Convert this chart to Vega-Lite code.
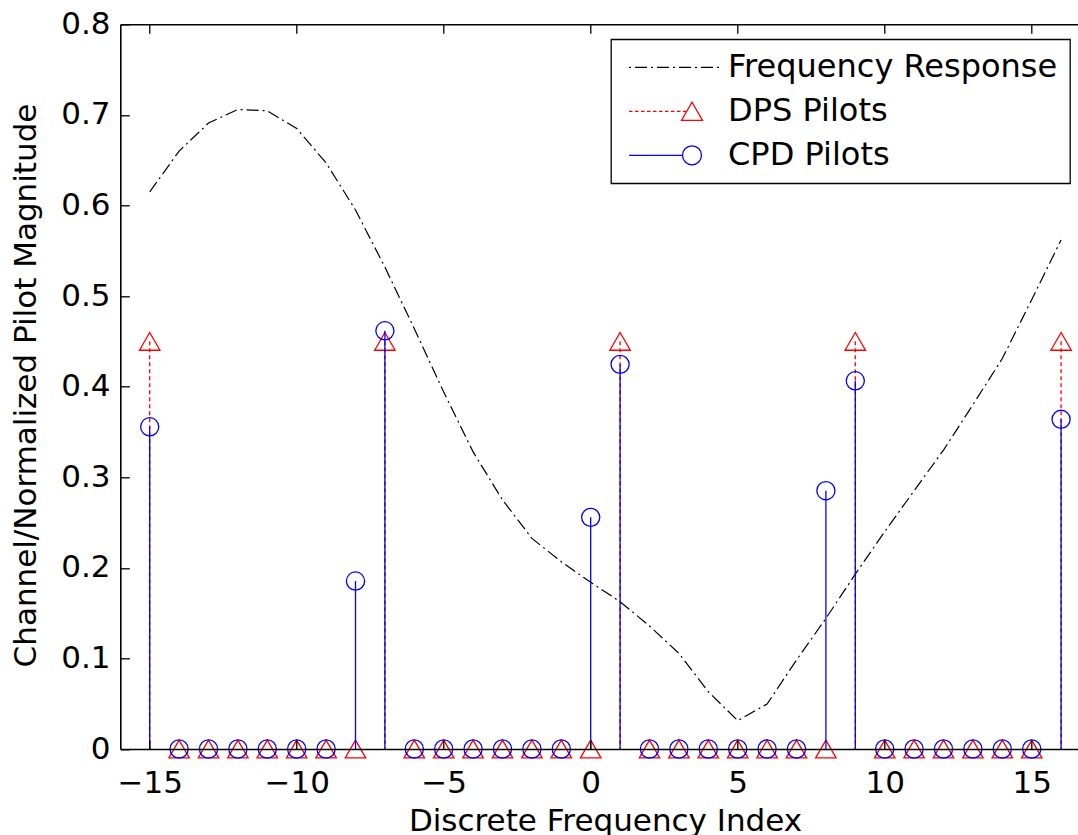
{
  "$schema": "https://vega.github.io/schema/vega-lite/v6.json",
  "width": 957.7,
  "height": 724.7,
  "autosize": {"type": "none"},
  "padding": {"left": 120.3, "top": 24.3, "right": 0, "bottom": 86},
  "background": "white",
  "config": {"view": {"stroke": null}, "font": "DejaVu Sans"},
  "datasets": {
    "freq": [
      {"k": -15, "mag": 0.615, "series": "Frequency Response"},
      {"k": -14, "mag": 0.660, "series": "Frequency Response"},
      {"k": -13, "mag": 0.691, "series": "Frequency Response"},
      {"k": -12, "mag": 0.706, "series": "Frequency Response"},
      {"k": -11, "mag": 0.7045, "series": "Frequency Response"},
      {"k": -10, "mag": 0.685, "series": "Frequency Response"},
      {"k": -9, "mag": 0.647, "series": "Frequency Response"},
      {"k": -8, "mag": 0.595, "series": "Frequency Response"},
      {"k": -7, "mag": 0.532, "series": "Frequency Response"},
      {"k": -6, "mag": 0.464, "series": "Frequency Response"},
      {"k": -5, "mag": 0.394, "series": "Frequency Response"},
      {"k": -4, "mag": 0.328, "series": "Frequency Response"},
      {"k": -3, "mag": 0.275, "series": "Frequency Response"},
      {"k": -2, "mag": 0.2325, "series": "Frequency Response"},
      {"k": -1, "mag": 0.2067, "series": "Frequency Response"},
      {"k": 0, "mag": 0.184, "series": "Frequency Response"},
      {"k": 1, "mag": 0.1626, "series": "Frequency Response"},
      {"k": 2, "mag": 0.1358, "series": "Frequency Response"},
      {"k": 3, "mag": 0.1056, "series": "Frequency Response"},
      {"k": 4, "mag": 0.0633, "series": "Frequency Response"},
      {"k": 5, "mag": 0.0313, "series": "Frequency Response"},
      {"k": 6, "mag": 0.0497, "series": "Frequency Response"},
      {"k": 7, "mag": 0.0982, "series": "Frequency Response"},
      {"k": 8, "mag": 0.1442, "series": "Frequency Response"},
      {"k": 9, "mag": 0.193, "series": "Frequency Response"},
      {"k": 10, "mag": 0.240, "series": "Frequency Response"},
      {"k": 11, "mag": 0.285, "series": "Frequency Response"},
      {"k": 12, "mag": 0.330, "series": "Frequency Response"},
      {"k": 13, "mag": 0.380, "series": "Frequency Response"},
      {"k": 14, "mag": 0.431, "series": "Frequency Response"},
      {"k": 15, "mag": 0.496, "series": "Frequency Response"},
      {"k": 16, "mag": 0.562, "series": "Frequency Response"}
    ],
    "dps": [
      {"k": -15, "mag": 0.45, "series": "DPS Pilots"},
      {"k": -14, "mag": 0, "series": "DPS Pilots"},
      {"k": -13, "mag": 0, "series": "DPS Pilots"},
      {"k": -12, "mag": 0, "series": "DPS Pilots"},
      {"k": -11, "mag": 0, "series": "DPS Pilots"},
      {"k": -10, "mag": 0, "series": "DPS Pilots"},
      {"k": -9, "mag": 0, "series": "DPS Pilots"},
      {"k": -8, "mag": 0, "series": "DPS Pilots"},
      {"k": -7, "mag": 0.45, "series": "DPS Pilots"},
      {"k": -6, "mag": 0, "series": "DPS Pilots"},
      {"k": -5, "mag": 0, "series": "DPS Pilots"},
      {"k": -4, "mag": 0, "series": "DPS Pilots"},
      {"k": -3, "mag": 0, "series": "DPS Pilots"},
      {"k": -2, "mag": 0, "series": "DPS Pilots"},
      {"k": -1, "mag": 0, "series": "DPS Pilots"},
      {"k": 0, "mag": 0, "series": "DPS Pilots"},
      {"k": 1, "mag": 0.45, "series": "DPS Pilots"},
      {"k": 2, "mag": 0, "series": "DPS Pilots"},
      {"k": 3, "mag": 0, "series": "DPS Pilots"},
      {"k": 4, "mag": 0, "series": "DPS Pilots"},
      {"k": 5, "mag": 0, "series": "DPS Pilots"},
      {"k": 6, "mag": 0, "series": "DPS Pilots"},
      {"k": 7, "mag": 0, "series": "DPS Pilots"},
      {"k": 8, "mag": 0, "series": "DPS Pilots"},
      {"k": 9, "mag": 0.45, "series": "DPS Pilots"},
      {"k": 10, "mag": 0, "series": "DPS Pilots"},
      {"k": 11, "mag": 0, "series": "DPS Pilots"},
      {"k": 12, "mag": 0, "series": "DPS Pilots"},
      {"k": 13, "mag": 0, "series": "DPS Pilots"},
      {"k": 14, "mag": 0, "series": "DPS Pilots"},
      {"k": 15, "mag": 0, "series": "DPS Pilots"},
      {"k": 16, "mag": 0.45, "series": "DPS Pilots"}
    ],
    "cpd": [
      {"k": -15, "mag": 0.3557, "series": "CPD Pilots"},
      {"k": -14, "mag": 0, "series": "CPD Pilots"},
      {"k": -13, "mag": 0, "series": "CPD Pilots"},
      {"k": -12, "mag": 0, "series": "CPD Pilots"},
      {"k": -11, "mag": 0, "series": "CPD Pilots"},
      {"k": -10, "mag": 0, "series": "CPD Pilots"},
      {"k": -9, "mag": 0, "series": "CPD Pilots"},
      {"k": -8, "mag": 0.1854, "series": "CPD Pilots"},
      {"k": -7, "mag": 0.4617, "series": "CPD Pilots"},
      {"k": -6, "mag": 0, "series": "CPD Pilots"},
      {"k": -5, "mag": 0, "series": "CPD Pilots"},
      {"k": -4, "mag": 0, "series": "CPD Pilots"},
      {"k": -3, "mag": 0, "series": "CPD Pilots"},
      {"k": -2, "mag": 0, "series": "CPD Pilots"},
      {"k": -1, "mag": 0, "series": "CPD Pilots"},
      {"k": 0, "mag": 0.2557, "series": "CPD Pilots"},
      {"k": 1, "mag": 0.4246, "series": "CPD Pilots"},
      {"k": 2, "mag": 0, "series": "CPD Pilots"},
      {"k": 3, "mag": 0, "series": "CPD Pilots"},
      {"k": 4, "mag": 0, "series": "CPD Pilots"},
      {"k": 5, "mag": 0, "series": "CPD Pilots"},
      {"k": 6, "mag": 0, "series": "CPD Pilots"},
      {"k": 7, "mag": 0, "series": "CPD Pilots"},
      {"k": 8, "mag": 0.2851, "series": "CPD Pilots"},
      {"k": 9, "mag": 0.4065, "series": "CPD Pilots"},
      {"k": 10, "mag": 0, "series": "CPD Pilots"},
      {"k": 11, "mag": 0, "series": "CPD Pilots"},
      {"k": 12, "mag": 0, "series": "CPD Pilots"},
      {"k": 13, "mag": 0, "series": "CPD Pilots"},
      {"k": 14, "mag": 0, "series": "CPD Pilots"},
      {"k": 15, "mag": 0, "series": "CPD Pilots"},
      {"k": 16, "mag": 0.3639, "series": "CPD Pilots"}
    ]
  },
  "resolve": {"axis": {"x": "independent", "y": "independent"}},
  "layer": [
    {
      "data": {"name": "freq"},
      "mark": {"type": "line", "strokeDash": [12, 4, 2, 4], "strokeWidth": 1.2},
      "encoding": {
        "x": {
          "field": "k", "type": "quantitative",
          "scale": {"domain": [-16, 16.575], "nice": false, "zero": false},
          "axis": {
            "orient": "bottom", "values": [-15, -10, -5, 0, 5, 10, 15], "format": "d",
            "title": "Discrete Frequency Index", "titleFont": "DejaVu Sans", "titleFontSize": 31,
            "titleFontWeight": "normal", "titleColor": "black", "titleBaseline": "alphabetic",
            "titleX": 484.7, "titleY": 81, "titleAlign": "center",
            "labelFont": "DejaVu Sans", "labelFontSize": 31, "labelColor": "black",
            "labelPadding": 28, "labelFlush": false, "labelOverlap": false,
            "tickSize": -9, "tickColor": "black", "tickWidth": 1.3,
            "domainColor": "black", "domainWidth": 1.6, "grid": false, "zindex": 1,
            "encode": {"labels": {"update": {"dx": {"signal": "datum.value < 0 ? -11 : 0"}}}}
          }
        },
        "y": {
          "field": "mag", "type": "quantitative",
          "scale": {"domain": [0, 0.8], "nice": false, "zero": false},
          "axis": {
            "orient": "left", "values": [0, 0.1, 0.2, 0.3, 0.4, 0.5, 0.6, 0.7, 0.8], "format": ".1~f",
            "title": "Channel/Normalized Pilot Magnitude", "titleFont": "DejaVu Sans", "titleFontSize": 31,
            "titleFontWeight": "normal", "titleColor": "black", "titleBaseline": "alphabetic",
            "titleAngle": 270, "titleX": -84.7, "titleY": 360.7, "titleAlign": "center",
            "labelFont": "DejaVu Sans", "labelFontSize": 31, "labelColor": "black",
            "labelPadding": 19.3, "labelFlush": false, "labelOverlap": false,
            "tickSize": -9, "tickColor": "black", "tickWidth": 1.3,
            "domainColor": "black", "domainWidth": 1.6, "grid": false, "zindex": 1
          }
        },
        "color": {
          "field": "series", "type": "nominal",
          "scale": {"domain": ["Frequency Response", "DPS Pilots", "CPD Pilots"], "range": ["black", "red", "blue"]},
          "legend": {
            "orient": "none", "legendX": 490.7, "legendY": 15, "title": null, "direction": "vertical",
            "padding": 12, "symbolSize": 400, "symbolStrokeWidth": 1.3, "symbolOffset": 53,
            "labelOffset": 20, "labelFont": "DejaVu Sans", "labelFontSize": 32, "labelColor": "black",
            "labelLimit": 600, "rowPadding": 12, "strokeColor": "black", "fillColor": "white",
            "encode": {
              "symbols": {
                "update": {
                  "shape": {"signal": "datum.value === 'Frequency Response' ? 'M-6.3,0H-6.1M-5.7,0H-4.5M-4.1,0H-3.9M-3.5,0H-2.3M-1.9,0H-1.7M-1.3,0H-0.1M0.3,0H0.5M0.9,0H2.1M2.5,0H2.7' : datum.value === 'DPS Pilots' ? 'M-6.3,0H-5.95M-5.7,0H-5.35M-5.1,0H-4.75M-4.5,0H-4.15M-3.9,0H-3.55M-3.3,0H-2.95M-2.7,0H-2.35M-2.1,0H-1.75M-1.5,0H-1.15M-0.9,0H-0.55M0,-0.91L-1.05,0.91L1.05,0.91Z' : 'M-6.3,0H-0.95M0.95,0A0.95,0.95,0,1,1,-0.95,0A0.95,0.95,0,1,1,0.95,0Z'"},
                  "stroke": {"signal": "datum.value === 'Frequency Response' ? 'black' : datum.value === 'DPS Pilots' ? 'red' : 'blue'"},
                  "fill": {"value": "transparent"},
                  "strokeWidth": {"value": 1.3},
                  "strokeDash": {"value": []},
                  "opacity": {"value": 1}
                }
              },
              "legend": {"update": {"strokeWidth": {"value": 1.3}}}
            }
          }
        }
      }
    },
    {
      "data": {"name": "dps"},
      "mark": {"type": "rule", "strokeDash": [4, 3], "strokeWidth": 1.3},
      "encoding": {
        "x": {
          "field": "k", "type": "quantitative",
          "scale": {"domain": [-16, 16.575], "nice": false, "zero": false},
          "axis": {
            "orient": "top", "values": [-15, -10, -5, 0, 5, 10, 15], "labels": false, "title": null,
            "tickSize": -9, "tickColor": "black", "tickWidth": 1.3,
            "domainColor": "black", "domainWidth": 1.6, "grid": false, "zindex": 1
          }
        },
        "y": {"field": "mag", "type": "quantitative", "scale": {"domain": [0, 0.8], "nice": false, "zero": false}, "axis": null},
        "y2": {"datum": 0},
        "color": {"field": "series", "type": "nominal", "scale": {"domain": ["Frequency Response", "DPS Pilots", "CPD Pilots"], "range": ["black", "red", "blue"]}}
      }
    },
    {
      "data": {"name": "dps"},
      "mark": {"type": "point", "shape": "triangle-up", "size": 420, "filled": false, "strokeWidth": 1.3, "opacity": 1},
      "encoding": {
        "x": {"field": "k", "type": "quantitative", "scale": {"domain": [-16, 16.575], "nice": false, "zero": false}, "axis": null},
        "y": {"field": "mag", "type": "quantitative", "scale": {"domain": [0, 0.8], "nice": false, "zero": false}, "axis": null},
        "color": {"field": "series", "type": "nominal", "scale": {"domain": ["Frequency Response", "DPS Pilots", "CPD Pilots"], "range": ["black", "red", "blue"]}}
      }
    },
    {
      "data": {"name": "cpd"},
      "mark": {"type": "rule", "strokeWidth": 1.3},
      "encoding": {
        "x": {"field": "k", "type": "quantitative", "scale": {"domain": [-16, 16.575], "nice": false, "zero": false}, "axis": null},
        "y": {"field": "mag", "type": "quantitative", "scale": {"domain": [0, 0.8], "nice": false, "zero": false}, "axis": null},
        "y2": {"datum": 0},
        "color": {"field": "series", "type": "nominal", "scale": {"domain": ["Frequency Response", "DPS Pilots", "CPD Pilots"], "range": ["black", "red", "blue"]}}
      }
    },
    {
      "data": {"name": "cpd"},
      "mark": {"type": "point", "shape": "circle", "size": 330, "filled": false, "strokeWidth": 1.3, "opacity": 1},
      "encoding": {
        "x": {"field": "k", "type": "quantitative", "scale": {"domain": [-16, 16.575], "nice": false, "zero": false}, "axis": null},
        "y": {"field": "mag", "type": "quantitative", "scale": {"domain": [0, 0.8], "nice": false, "zero": false}, "axis": null},
        "color": {"field": "series", "type": "nominal", "scale": {"domain": ["Frequency Response", "DPS Pilots", "CPD Pilots"], "range": ["black", "red", "blue"]}}
      }
    }
  ]
}
